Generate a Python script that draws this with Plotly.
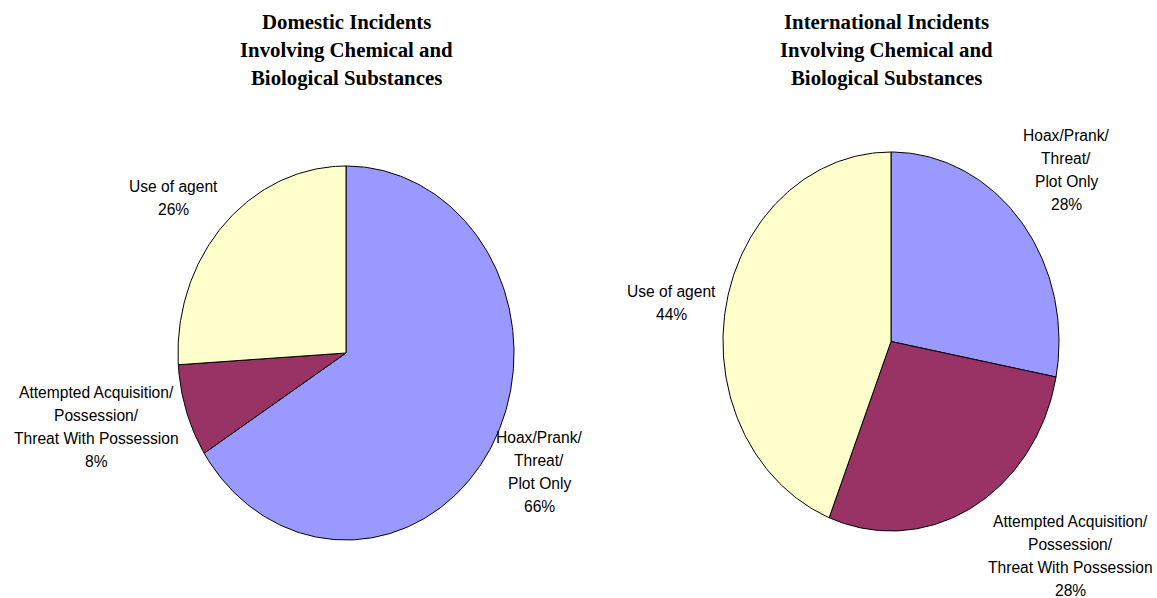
import numpy as np
import plotly.graph_objects as go

# ---- data ----
categories = ["Hoax/Prank/Threat/Plot Only",
              "Attempted Acquisition/Possession/Threat With Possession",
              "Use of agent"]
domestic_pct = [66, 8, 26]
international_pct = [28, 28, 44]
chart_titles = ["Domestic Incidents<br>Involving Chemical and<br>Biological Substances",
                "International Incidents<br>Involving Chemical and<br>Biological Substances"]
label_lines = {
    "Hoax/Prank/Threat/Plot Only": ["Hoax/Prank/", "Threat/", "Plot Only"],
    "Attempted Acquisition/Possession/Threat With Possession": ["Attempted Acquisition/", "Possession/", "Threat With Possession"],
    "Use of agent": ["Use of agent"],
}
colors = {"Hoax/Prank/Threat/Plot Only": "#9999FF",
          "Attempted Acquisition/Possession/Threat With Possession": "#993366",
          "Use of agent": "#FFFFCC"}

W, H = 1157, 598
LABEL_FONT = dict(family="Liberation Sans, Arial", size=15.6, color="#000000")
TITLE_FONT = dict(family="Liberation Serif, Times New Roman", size=20.8, color="#000000")
LINE_STEP = 23
TITLE_STEP = 28.5

# layout of each pie: centre, radii, title centre, label anchor (first line centre) per category
pies = [
    dict(values=domestic_pct, cx=346, cy=353, rx=168, ry=187, tx=346, ty=21,
         labels={categories[0]: (539, 437), categories[1]: (96, 392), categories[2]: (173, 186)}),
    dict(values=international_pct, cx=891, cy=341.5, rx=168, ry=189.5, tx=886, ty=21,
         labels={categories[0]: (1066, 135), categories[1]: (1070, 521), categories[2]: (671, 291)}),
]

fig = go.Figure()
annotations = []

for p, title in zip(pies, chart_titles):
    total = float(sum(p["values"]))
    start = 0.0
    for cat, v in zip(categories, p["values"]):
        end = start + v / total * 2 * np.pi
        th = np.linspace(start, end, max(3, int(v * 4)))
        xs = np.concatenate([[p["cx"]], p["cx"] + p["rx"] * np.sin(th), [p["cx"]]])
        ys = np.concatenate([[p["cy"]], p["cy"] - p["ry"] * np.cos(th), [p["cy"]]])
        fig.add_trace(go.Scatter(x=xs, y=ys, mode="lines", fill="toself",
                                 fillcolor=colors[cat], line=dict(color="#000000", width=1),
                                 hoverinfo="text", text=f"{cat}: {v}%", showlegend=False))
        start = end
        lx, ly = p["labels"][cat]
        lines = label_lines[cat] + [f"{v}%"]
        for i, t in enumerate(lines):
            annotations.append(dict(x=lx, y=ly + i * LINE_STEP, xref="x", yref="y", text=t,
                                    showarrow=False, font=LABEL_FONT, xanchor="center", yanchor="middle"))
    for i, t in enumerate(title.split("<br>")):
        annotations.append(dict(x=p["tx"], y=p["ty"] + i * TITLE_STEP, xref="x", yref="y",
                                text=f"<b>{t}</b>", showarrow=False, font=TITLE_FONT,
                                xanchor="center", yanchor="middle"))

fig.update_layout(
    width=W, height=H, margin=dict(l=0, r=0, t=0, b=0),
    paper_bgcolor="#FFFFFF", plot_bgcolor="#FFFFFF",
    xaxis=dict(range=[0, W], visible=False, fixedrange=True),
    yaxis=dict(range=[H, 0], visible=False, fixedrange=True),
    annotations=annotations, showlegend=False,
)

fig.write_html("out.html")
